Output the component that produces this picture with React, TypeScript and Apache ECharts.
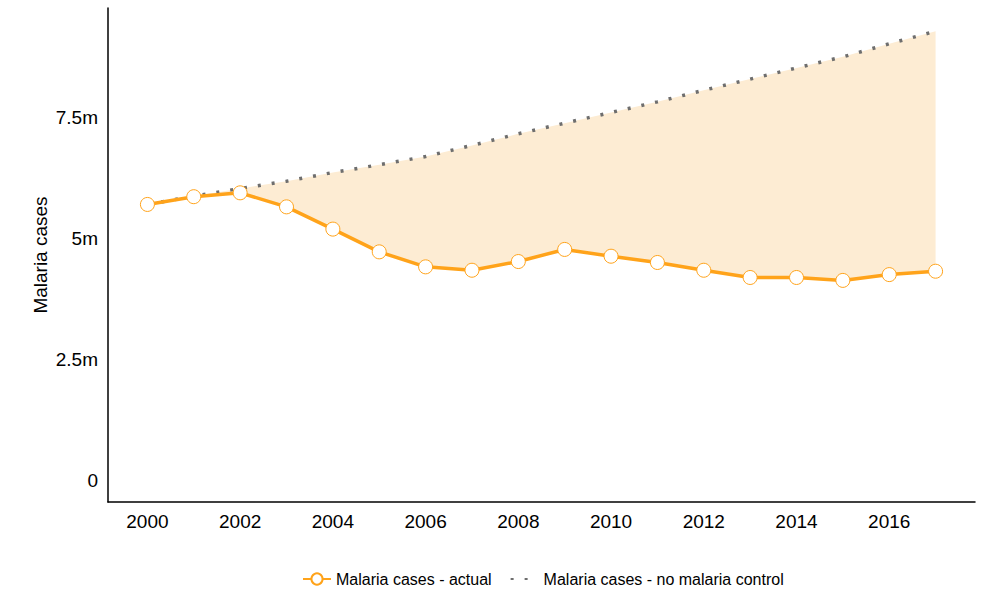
import React, { useEffect, useRef } from "react";
import * as echarts from "echarts";

const years = [2000, 2001, 2002, 2003, 2004, 2005, 2006, 2007, 2008, 2009, 2010, 2011, 2012, 2013, 2014, 2015, 2016, 2017];
const actual = [5.70, 5.86, 5.94, 5.65, 5.19, 4.72, 4.41, 4.34, 4.52, 4.77, 4.63, 4.50, 4.34, 4.19, 4.19, 4.13, 4.25, 4.32];
const noControl = [5.70, 5.87, 6.03, 6.18, 6.36, 6.52, 6.69, 6.92, 7.16, 7.38, 7.60, 7.82, 8.06, 8.29, 8.52, 8.75, 9.02, 9.28];
const yTicks = [0, 2.5, 5, 7.5];
const xTicks = [2000, 2002, 2004, 2006, 2008, 2010, 2012, 2014, 2016];

const ORANGE = "#ffa31a";
const FONT = "Liberation Sans, Arial, sans-serif";

export default function App() {
  const ref = useRef<HTMLDivElement>(null);
  useEffect(() => {
    if (!ref.current) return;
    const chart = echarts.init(ref.current, undefined, { renderer: "svg" });
    chart.setOption({
      animation: false,
      textStyle: { fontFamily: FONT },
      grid: { left: 108, right: 26, top: 8, bottom: 104, containLabel: false },
      xAxis: {
        type: "value",
        min: 1999.15,
        max: 2017.85,
        axisLine: { show: true, onZero: false, lineStyle: { color: "#000", width: 1.5 } },
        axisTick: { show: false },
        splitLine: { show: false },
        axisLabel: {
          customValues: xTicks,
          formatter: (v: number) => String(v),
          color: "#000",
          fontSize: 19,
          margin: 10,
          fontFamily: FONT,
        },
      },
      yAxis: {
        type: "value",
        min: -0.45,
        max: 9.76,
        name: "Malaria cases",
        nameLocation: "middle",
        nameGap: 58,
        nameMoveOverlap: false,
        nameTextStyle: { color: "#000", fontSize: 19, fontFamily: FONT },
        axisLine: { show: true, lineStyle: { color: "#000", width: 1.5 } },
        axisTick: { show: false },
        splitLine: { show: false },
        axisLabel: {
          customValues: yTicks,
          formatter: (v: number) => (v === 0 ? "0" : v + "m"),
          color: "#000",
          fontSize: 19,
          margin: 10,
          fontFamily: FONT,
        },
      },
      legend: {
        bottom: 14,
        left: 297,
        itemWidth: 28,
        itemHeight: 14,
        itemGap: 18,
        textStyle: { color: "#000", fontSize: 16, fontFamily: FONT },
        data: [
          { name: "Malaria cases - actual" },
          {
            name: "Malaria cases - no malaria control",
            itemStyle: { color: "rgba(0,0,0,0)", borderWidth: 0, opacity: 0 },
          },
        ],
      },
      series: [
        {
          name: "band",
          type: "custom",
          data: [[years[0], actual[0]]],
          silent: true,
          z: 1,
          renderItem: (params: any, api: any) => {
            const pts: number[][] = [];
            for (let i = 0; i < years.length; i++) pts.push(api.coord([years[i], noControl[i]]));
            for (let i = years.length - 1; i >= 0; i--) pts.push(api.coord([years[i], actual[i]]));
            return { type: "polygon", shape: { points: pts }, style: { fill: "#fdecd3" } };
          },
        },
        {
          name: "Malaria cases - no malaria control",
          type: "line",
          data: years.map((y, i) => [y, noControl[i]]),
          symbol: "none",
          lineStyle: { color: "#6e6e6e", width: 3.5, type: [3, 11], cap: "butt" },
          itemStyle: { color: "#6e6e6e" },
          z: 3,
        },
        {
          name: "Malaria cases - actual",
          type: "line",
          data: years.map((y, i) => [y, actual[i]]),
          symbol: "circle",
          symbolSize: 14,
          showAllSymbol: true,
          lineStyle: { color: ORANGE, width: 3.5 },
          itemStyle: { color: "#fff", borderColor: ORANGE, borderWidth: 1 },
          z: 4,
        },
      ],
    });
    return () => chart.dispose();
  }, []);
  return <div ref={ref} style={{ width: 1001, height: 606, position: "absolute", left: 0, top: 0 }} />;
}
